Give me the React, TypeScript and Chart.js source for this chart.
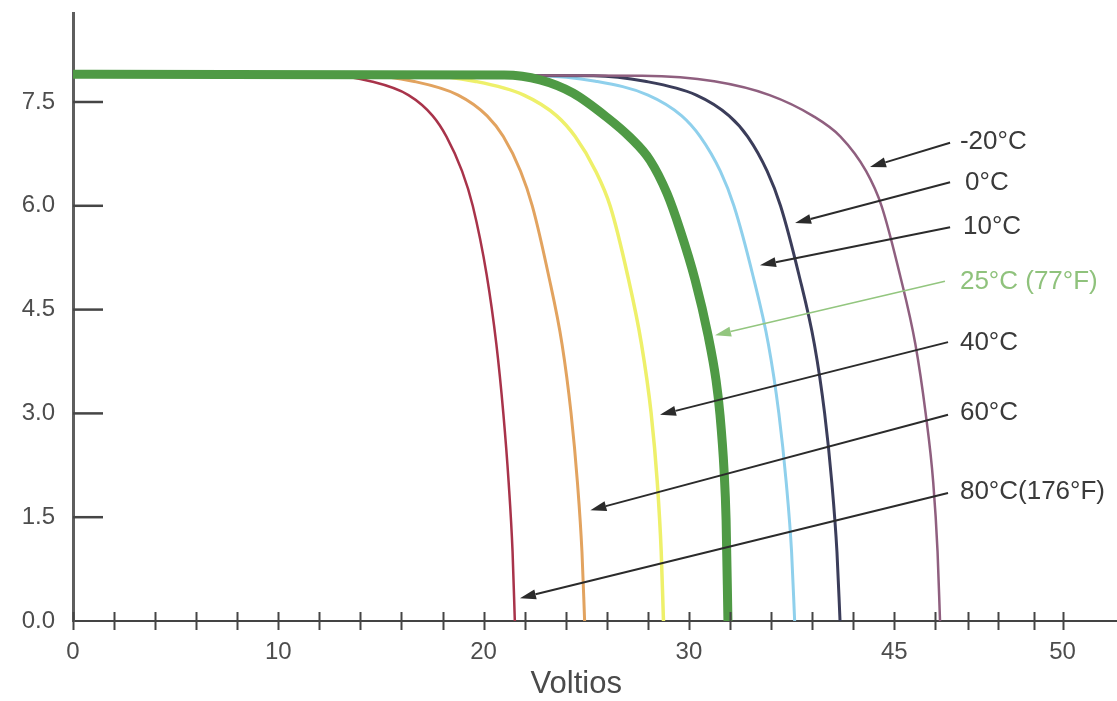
import React, { useEffect, useRef } from "react";
import { Chart, registerables } from "chart.js";

Chart.register(...registerables);

const FONT = '"Liberation Sans", Arial, Helvetica, sans-serif';

// ---- data (Voltios, Amperios) ----
const seriesNames = ["25°C", "-20°C", "0°C", "10°C", "40°C", "60°C", "80°C"];

const vMinus20 = [0, 27.73, 31.23, 33.93, 36.03, 37.38, 38.63, 39.38, 40.28, 41.03, 41.53, 41.9, 42.11, 42.23];
const iMinus20 = [7.9, 7.88, 7.8, 7.6, 7.3, 7.0, 6.5, 6.0, 5.0, 4.0, 3.0, 2.0, 1.0, 0];

const v0 = [0, 25.36, 27.86, 30.36, 31.96, 32.86, 33.81, 34.46, 35.36, 36.11, 36.61, 36.96, 37.21, 37.36];
const i0 = [7.9, 7.88, 7.8, 7.6, 7.3, 7.0, 6.5, 6.0, 5.0, 4.0, 3.0, 2.0, 1.0, 0];

const v10 = [0, 22.65, 25.45, 28.01, 29.65, 30.55, 31.53, 32.19, 33.11, 33.87, 34.38, 34.74, 35.0, 35.15];
const i10 = [7.9, 7.88, 7.8, 7.6, 7.3, 7.0, 6.5, 6.0, 5.0, 4.0, 3.0, 2.0, 1.0, 0];

const v25 = [0, 21.0, 22.75, 24.35, 26.0, 27.13, 28.1, 28.93, 29.57, 30.3, 30.93, 31.32, 31.51, 31.71, 31.81, 31.9];
const i25 = [7.9, 7.89, 7.82, 7.63, 7.28, 6.99, 6.66, 6.18, 5.65, 4.93, 4.13, 3.48, 2.99, 2.18, 1.46, 0];

const v40 = [0, 17.26, 19.56, 21.96, 23.56, 24.46, 25.46, 26.16, 27.01, 27.69, 28.16, 28.46, 28.65, 28.76];
const i40 = [7.9, 7.88, 7.8, 7.6, 7.3, 7.0, 6.5, 6.0, 5.0, 4.0, 3.0, 2.0, 1.0, 0];

const v60 = [0, 14.4, 16.56, 18.76, 20.17, 20.96, 21.8, 22.37, 23.16, 23.82, 24.26, 24.57, 24.79, 24.92];
const i60 = [7.9, 7.88, 7.8, 7.6, 7.3, 7.0, 6.5, 6.0, 5.0, 4.0, 3.0, 2.0, 1.0, 0];

const v80 = [0, 12.6, 14.49, 16.34, 17.52, 18.19, 18.95, 19.47, 20.15, 20.62, 20.96, 21.22, 21.41, 21.52];
const i80 = [7.9, 7.88, 7.8, 7.6, 7.3, 7.0, 6.5, 6.0, 5.0, 4.0, 3.0, 2.0, 1.0, 0];

// ---- axes ----
const yTickValues = [0, 1.5, 3.0, 4.5, 6.0, 7.5];
const xTickValues = [0, 2, 4, 6, 8, 10, 12, 14, 16, 18, 20, 22, 24, 26, 28, 30, 32, 34, 36, 38, 40, 42, 43.6, 45.05, 46.8, 48.2];
const xTickLabels = ["0", "", "", "", "", "10", "", "", "", "", "20", "", "", "", "", "30", "", "", "", "", "45", "", "", "", "", "50"];
const xAxisTitle = "Voltios";

// ---- annotations (data coordinates) ----
const noteLabels = ["-20°C", "0°C", "10°C", "25°C (77°F)", "40°C", "60°C", "80°C(176°F)"];
const noteLabelV = [43.2, 43.45, 43.35, 43.2, 43.2, 43.2, 43.2];
const noteLabelI = [6.92, 6.33, 5.69, 4.9, 4.02, 3.01, 1.86];
const noteTailV = [42.72, 42.72, 42.72, 42.47, 42.62, 42.62, 42.62];
const noteTailI = [6.91, 6.34, 5.69, 4.91, 4.03, 2.98, 1.85];
const noteTipV = [38.82, 35.17, 33.46, 31.27, 28.59, 25.2, 21.77];
const noteTipI = [6.56, 5.75, 5.14, 4.13, 2.98, 1.6, 0.33];

const toPoints = (v: number[], i: number[]) => v.map((x, k) => ({ x, y: i[k] }));

const decorPlugin = {
  id: "decor",
  afterDraw(chart: any) {
    const ctx = chart.ctx as CanvasRenderingContext2D;
    const xs = chart.scales.x;
    const ys = chart.scales.y;
    const area = chart.chartArea;
    ctx.save();
    // x tick marks crossing the axis
    ctx.strokeStyle = "#454545";
    ctx.lineWidth = 2;
    xs.ticks.forEach((t: any) => {
      const px = Math.round(xs.getPixelForValue(t.value)) + 0.5;
      ctx.beginPath();
      ctx.moveTo(px, area.bottom - 9);
      ctx.lineTo(px, area.bottom + 9);
      ctx.stroke();
    });
    // y tick marks inside
    ctx.lineWidth = 2.5;
    ys.ticks.forEach((t: any) => {
      if (t.value === 0) return;
      const py = ys.getPixelForValue(t.value);
      ctx.beginPath();
      ctx.moveTo(area.left, py);
      ctx.lineTo(area.left + 30, py);
      ctx.stroke();
    });
    // arrows + labels
    noteLabels.forEach((lab, k) => {
      const green = k === 3;
      const col = green ? "#93c67f" : "#2b2b2b";
      const x1 = xs.getPixelForValue(noteTailV[k]);
      const y1 = ys.getPixelForValue(noteTailI[k]);
      const x2 = xs.getPixelForValue(noteTipV[k]);
      const y2 = ys.getPixelForValue(noteTipI[k]);
      const ang = Math.atan2(y2 - y1, x2 - x1);
      const hl = 16, hw = 5;
      const bx = x2 - hl * Math.cos(ang);
      const by = y2 - hl * Math.sin(ang);
      ctx.strokeStyle = col;
      ctx.fillStyle = col;
      ctx.lineWidth = green ? 1.6 : 2;
      ctx.beginPath();
      ctx.moveTo(x1, y1);
      ctx.lineTo(bx, by);
      ctx.stroke();
      ctx.beginPath();
      ctx.moveTo(x2, y2);
      ctx.lineTo(bx + hw * Math.sin(ang), by - hw * Math.cos(ang));
      ctx.lineTo(bx - hw * Math.sin(ang), by + hw * Math.cos(ang));
      ctx.closePath();
      ctx.fill();
      ctx.font = `26px ${FONT}`;
      ctx.textAlign = "left";
      ctx.textBaseline = "middle";
      ctx.fillStyle = green ? "#8fc27c" : "#3a3a3a";
      ctx.fillText(lab, xs.getPixelForValue(noteLabelV[k]), ys.getPixelForValue(noteLabelI[k]));
    });
    // axis title
    ctx.font = `31px ${FONT}`;
    ctx.fillStyle = "#4a4a4a";
    ctx.textAlign = "center";
    ctx.textBaseline = "middle";
    ctx.fillText(xAxisTitle, area.left + (area.right - area.left) * 0.482, area.bottom + 63);
    ctx.restore();
  },
};

export default function App() {
  const ref = useRef<HTMLCanvasElement>(null);
  useEffect(() => {
    const styles: Record<string, { color: string; width: number; order: number }> = {
      "25°C": { color: "#4f9a45", width: 9, order: 0 },
      "-20°C": { color: "#8f5f7f", width: 2.5, order: 1 },
      "0°C": { color: "#3b3d5a", width: 3, order: 1 },
      "10°C": { color: "#8fd0ec", width: 3, order: 1 },
      "40°C": { color: "#eef06a", width: 3.5, order: 1 },
      "60°C": { color: "#e2a35f", width: 3, order: 1 },
      "80°C": { color: "#a8334a", width: 2.5, order: 1 },
    };
    const seriesData: Record<string, { x: number; y: number }[]> = {
      "25°C": toPoints(v25, i25),
      "-20°C": toPoints(vMinus20, iMinus20),
      "0°C": toPoints(v0, i0),
      "10°C": toPoints(v10, i10),
      "40°C": toPoints(v40, i40),
      "60°C": toPoints(v60, i60),
      "80°C": toPoints(v80, i80),
    };
    const noPad = (s: any) => {
      s.paddingTop = 0;
      s.paddingBottom = 0;
      s.paddingLeft = 0;
      s.paddingRight = 0;
    };
    const chart = new Chart(ref.current!, {
      type: "line",
      data: {
        datasets: seriesNames.map((n) => ({
          label: n,
          data: seriesData[n],
          borderColor: styles[n].color,
          borderWidth: styles[n].width,
          order: styles[n].order,
          pointRadius: 0,
          fill: false,
          cubicInterpolationMode: "monotone" as const,
          borderCapStyle: "round" as const,
          borderJoinStyle: "round" as const,
        })),
      },
      options: {
        responsive: false,
        animation: false,
        devicePixelRatio: 1,
        layout: { padding: { top: 13, left: 0, right: 0, bottom: 0 } },
        plugins: { legend: { display: false }, tooltip: { enabled: false } },
        scales: {
          x: {
            type: "linear",
            min: 0,
            max: 50.85,
            afterBuildTicks: (s: any) => {
              s.ticks = xTickValues.map((v) => ({ value: v }));
            },
            afterFit: (s: any) => {
              s.height = 80;
              noPad(s);
            },
            ticks: {
              autoSkip: false,
              maxRotation: 0,
              padding: 17,
              color: "#4d4d4d",
              font: { size: 24, family: FONT },
              callback: (_v: any, idx: number) => xTickLabels[idx] ?? "",
            },
            grid: { display: false, drawTicks: false },
            border: { display: true, color: "#444", width: 2 },
          },
          y: {
            type: "linear",
            min: 0,
            max: 8.786,
            afterBuildTicks: (s: any) => {
              s.ticks = yTickValues.map((v) => ({ value: v }));
            },
            afterFit: (s: any) => {
              s.width = 73;
              noPad(s);
            },
            ticks: {
              padding: 18,
              color: "#4d4d4d",
              font: { size: 24, family: FONT },
              callback: (v: any) => Number(v).toFixed(1),
            },
            grid: { display: false, drawTicks: false },
            border: { display: true, color: "#5e5e5e", width: 3 },
          },
        },
      },
      plugins: [decorPlugin],
    } as any);
    return () => chart.destroy();
  }, []);
  return (
    <div style={{ position: "fixed", left: 0, top: 0, width: 1117, height: 701, background: "#fff" }}>
      <canvas ref={ref} width={1117} height={701} style={{ display: "block" }} />
    </div>
  );
}
